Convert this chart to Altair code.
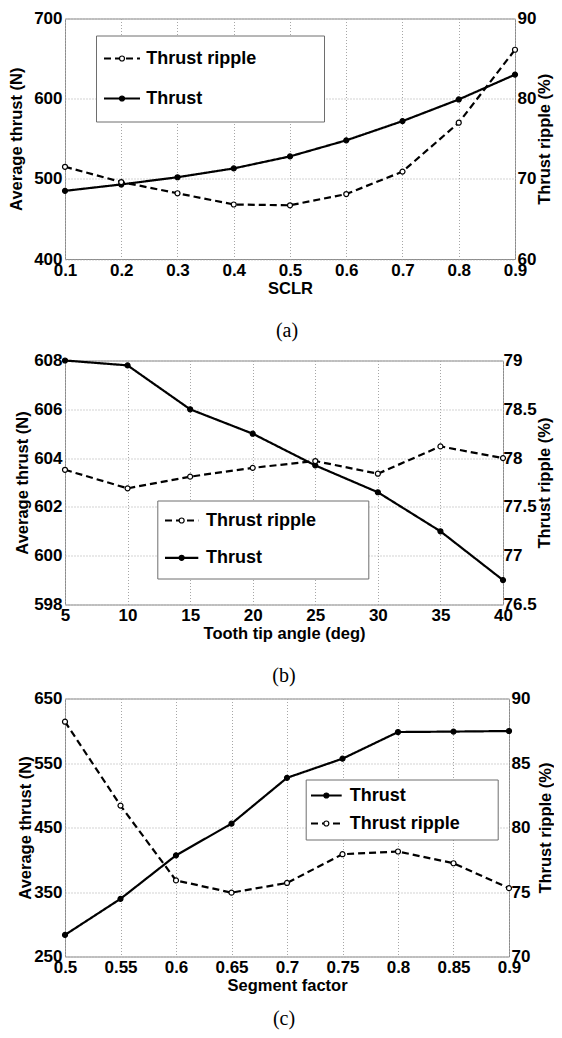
import altair as alt
import pandas as pd

# ---------------- data ----------------
SCLR = [0.1, 0.2, 0.3, 0.4, 0.5, 0.6, 0.7, 0.8, 0.9]
THRUST_A = [485, 493, 502, 513, 528, 548, 572, 599, 630]
RIPPLE_A = [71.5, 69.6, 68.2, 66.8, 66.7, 68.1, 70.9, 77.0, 86.1]

TIP_ANGLE = [5, 10, 15, 20, 25, 30, 35, 40]
THRUST_B = [608.0, 607.8, 606.0, 605.0, 603.7, 602.6, 601.0, 599.0]
RIPPLE_B = [77.88, 77.69, 77.81, 77.90, 77.97, 77.84, 78.12, 78.0]

SEGMENT = [0.5, 0.55, 0.6, 0.65, 0.7, 0.75, 0.8, 0.85, 0.9]
THRUST_C = [283.5, 339.4, 406.8, 456, 527, 556.7, 598, 598.7, 599.6]
RIPPLE_C = [88.2, 81.7, 75.9, 74.95, 75.7, 77.93, 78.14, 77.23, 75.3]

X_TICKS_A = [0.1, 0.2, 0.3, 0.4, 0.5, 0.6, 0.7, 0.8, 0.9]
X_TICKS_B = [5, 10, 15, 20, 25, 30, 35, 40]
X_TICKS_C = [0.5, 0.55, 0.6, 0.65, 0.7, 0.75, 0.8, 0.85, 0.9]
YL_TICKS_A = [400, 500, 600, 700]
YR_TICKS_A = [60, 70, 80, 90]
YL_TICKS_B = [598, 600, 602, 604, 606, 608]
YR_TICKS_B = [76.5, 77, 77.5, 78, 78.5, 79]
YL_TICKS_C = [250, 350, 450, 550, 650]
YR_TICKS_C = [70, 75, 80, 85, 90]

SERIES_T = "Thrust"
SERIES_R = "Thrust ripple"

FONT = "Liberation Sans"
SERIF = "Liberation Serif"


def long_df(xs, thrust, ripple):
    rows = []
    for x, t, r in zip(xs, thrust, ripple):
        rows.append({"x": x, "value": t, "series": SERIES_T, "mk": "m-" + SERIES_T})
        rows.append({"x": x, "value": r, "series": SERIES_R, "mk": "m-" + SERIES_R})
    return pd.DataFrame(rows)


def panel(df, c):
    order = c["order"]
    dash_range = [[7, 4] if s == SERIES_R else [1, 0] for s in order]
    fill_range = ["white" if s == SERIES_R else "black" for s in order]

    # line-style legend: draws the box, the line glyphs and the labels
    leg_line = alt.Legend(
        orient="none", legendX=c["lx"], legendY=c["ly"], direction="vertical",
        title=None, padding=c["pad"], rowPadding=c["rowpad"],
        symbolType="M-4,0H4M%.2f,0" % c["reach"], symbolSize=c["symsize"], symbolStrokeWidth=2.2,
        symbolStrokeColor="black", symbolOffset=c["symoff"], labelOffset=c["laboff"],
        labelFont=FONT, labelFontSize=18, labelFontWeight="bold", labelColor="black",
        labelLimit=400, strokeColor="#6e6e6e", fillColor="white", zindex=1,
    )
    # marker legend: only the circles, laid over the line glyphs
    leg_pt = alt.Legend(
        orient="none", legendX=c["lx"], legendY=c["ly"], direction="vertical",
        title=None, padding=c["pad"], rowPadding=c["rowpad"],
        symbolType="circle", symbolSize=25, symbolStrokeWidth=1.2,
        symbolStrokeColor="black", symbolOffset=c["symoff"], labelOffset=c["laboff"],
        labelFont=FONT, labelFontSize=18, labelFontWeight="bold", labelExpr="''",
        zindex=2,
    )
    dash = alt.StrokeDash("series:N", scale=alt.Scale(domain=order, range=dash_range), legend=leg_line)
    fill = alt.Fill("mk:N", scale=alt.Scale(domain=["m-" + s for s in order], range=fill_range), legend=leg_pt)

    xenc = alt.X(
        "x:Q",
        scale=alt.Scale(domain=[c["xt"][0], c["xt"][-1]], nice=False, zero=False),
        axis=alt.Axis(values=c["xt"], format=c["xfmt"], title=c["xtitle"], grid=True,
                      labelPadding=3, titlePadding=2),
    )
    yl = alt.Y(
        "value:Q",
        scale=alt.Scale(domain=[c["ylt"][0], c["ylt"][-1]], nice=False, zero=False),
        axis=alt.Axis(orient="left", values=c["ylt"], format="d", title="Average thrust (N)",
                      grid=True, labelPadding=3,
                      titleX=c["ltx"], titleY=c["h"] / 2, titleAngle=270, titleBaseline="bottom",
                      titleAlign="center"),
    )
    yr = alt.Y(
        "value:Q",
        scale=alt.Scale(domain=[c["yrt"][0], c["yrt"][-1]], nice=False, zero=False),
        axis=alt.Axis(orient="right", values=c["yrt"], format=c["yrfmt"], title="Thrust ripple (%)",
                      grid=False, labelPadding=c["rlp"],
                      titleX=c["rtx"], titleY=c["h"] / 2, titleAngle=270, titleBaseline="top",
                      titleAlign="center"),
    )

    base_t = alt.Chart(df).transform_filter(f"datum.series == '{SERIES_T}'")
    base_r = alt.Chart(df).transform_filter(f"datum.series == '{SERIES_R}'")

    def pair(base, y):
        line = base.mark_line(color="black", strokeWidth=2.2).encode(x=xenc, y=y, strokeDash=dash)
        pts = base.mark_point(shape="circle", size=25, strokeWidth=1.2, stroke="black",
                              filled=True, opacity=1).encode(x=xenc, y=y, fill=fill)
        return alt.layer(line, pts)

    return alt.layer(pair(base_t, yl), pair(base_r, yr)).resolve_scale(y="independent").properties(
        width=c["w"], height=c["h"],
        title=alt.TitleParams(c["cap"], orient="bottom", font=SERIF, fontSize=20, fontWeight="normal",
                              color="black", offset=c["capoff"], dx=c["capdx"], anchor="middle",
                              frame="group"),
    )


pa = panel(long_df(SCLR, THRUST_A, RIPPLE_A), dict(
    order=[SERIES_R, SERIES_T], xt=X_TICKS_A, xfmt=".1f", xtitle="SCLR",
    ylt=YL_TICKS_A, yrt=YR_TICKS_A, yrfmt="d",
    ltx=-40.5, rlp=2, rtx=21.4, w=450, h=240.5,
    lx=31, ly=17, pad=14, rowpad=22, symsize=81, symoff=3, laboff=15.3, reach=40.8,
    cap="(a)", capoff=24, capdx=-3,
))
pb = panel(long_df(TIP_ANGLE, THRUST_B, RIPPLE_B), dict(
    order=[SERIES_R, SERIES_T], xt=X_TICKS_B, xfmt="d", xtitle="Tooth tip angle (deg)",
    ylt=YL_TICKS_B, yrt=YR_TICKS_B, yrfmt=".1~f",
    ltx=-35, rlp=0, rtx=33.6, w=438, h=244,
    lx=92.3, ly=140, pad=11, rowpad=19.3, symsize=69.3, symoff=4.35, laboff=15.4, reach=41.1,
    cap="(b)", capoff=24, capdx=0,
))
pc = panel(long_df(SEGMENT, THRUST_C, RIPPLE_C), dict(
    order=[SERIES_T, SERIES_R], xt=X_TICKS_C, xfmt=".2~f", xtitle="Segment factor",
    ylt=YL_TICKS_C, yrt=YR_TICKS_C, yrfmt="d",
    ltx=-31.6, rlp=2, rtx=28, w=444, h=258,
    lx=240.7, ly=81, pad=7, rowpad=10, symsize=58.9, symoff=4.65, laboff=14.3, reach=41.6,
    cap="(c)", capoff=15, capdx=-3,
))

indep = dict(strokeDash="independent", fill="independent", x="independent", y="independent")

inner = alt.concat(pb, pc, columns=1, spacing=2).resolve_scale(**indep)
chart = alt.concat(pa, inner, columns=1, spacing=9).resolve_scale(**indep)

chart = chart.properties(
    padding={"left": 0, "top": 0.5, "right": 0, "bottom": 0},
    background="white",
).configure_view(
    stroke="#8c8c8c", strokeWidth=1,
).configure_axis(
    labelFont=FONT, titleFont=FONT, labelFontWeight="bold", titleFontWeight="bold",
    labelFontSize=17, titleFontSize=16.5, labelColor="black", titleColor="black",
    domain=False, ticks=False, tickSize=0, labelFlush=False, labelOverlap=False,
    gridColor="#a6a6a6", gridDash=[1, 2], gridWidth=1,
)

chart.save("out.html", embed_options={"renderer": "svg", "actions": False})
